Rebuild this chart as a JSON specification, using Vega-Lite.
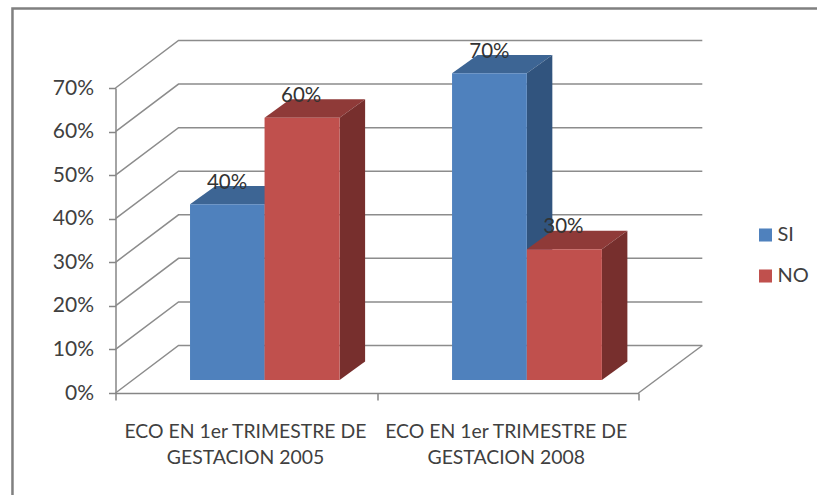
{
"$schema":"https://vega.github.io/schema/vega-lite/v6.json",
"width":523,"height":305,
"autosize":{"type":"none"},
"padding":{"left":115.5,"top":88,"right":178.5,"bottom":102},
"background":"#ffffff",
"view":{"stroke":null},
"config":{"font":"Lato","view":{"stroke":null}},
"datasets":{
"pared":[
{"linea":"marco","x":-0.394,"y":-23.4},{"linea":"marco","x":-0.394,"y":88.25},{"linea":"marco","x":2.684,"y":88.25}
],
"rejilla":[
{"linea":"suelo","x":2,"y":0},{"linea":"suelo","x":2.244,"y":10.9},
{"linea":"0","x":0,"y":0},{"linea":"0","x":0.241,"y":10.9},{"linea":"0","x":2.244,"y":10.9},
{"linea":"10","x":0,"y":10},{"linea":"10","x":0.241,"y":20.9},{"linea":"10","x":2.244,"y":20.9},
{"linea":"20","x":0,"y":20},{"linea":"20","x":0.241,"y":30.9},{"linea":"20","x":2.244,"y":30.9},
{"linea":"30","x":0,"y":30},{"linea":"30","x":0.241,"y":40.9},{"linea":"30","x":2.244,"y":40.9},
{"linea":"40","x":0,"y":40},{"linea":"40","x":0.241,"y":50.9},{"linea":"40","x":2.244,"y":50.9},
{"linea":"50","x":0,"y":50},{"linea":"50","x":0.241,"y":60.9},{"linea":"50","x":2.244,"y":60.9},
{"linea":"60","x":0,"y":60},{"linea":"60","x":0.241,"y":70.9},{"linea":"60","x":2.244,"y":70.9},
{"linea":"70","x":0,"y":70},{"linea":"70","x":0.241,"y":80.9},{"linea":"70","x":2.244,"y":80.9}
],
"caras":[
{"serie":"SI","cara":"SI techo","id":"a1","x":0.285,"y":43.3,"y2":43.3},{"serie":"SI","cara":"SI techo","id":"a1","x":0.3825,"y":43.3,"y2":47.5},{"serie":"SI","cara":"SI techo","id":"a1","x":0.57,"y":43.3,"y2":47.5},{"serie":"SI","cara":"SI techo","id":"a1","x":0.6675,"y":47.5,"y2":47.5},
{"serie":"SI","cara":"SI lado","id":"a2","x":0.57,"y":3,"y2":43.3},{"serie":"SI","cara":"SI lado","id":"a2","x":0.6675,"y":7.25,"y2":47.5},
{"serie":"NO","cara":"NO techo","id":"b1","x":0.57,"y":63.2,"y2":63.2},{"serie":"NO","cara":"NO techo","id":"b1","x":0.6675,"y":63.2,"y2":67.4},{"serie":"NO","cara":"NO techo","id":"b1","x":0.857,"y":63.2,"y2":67.4},{"serie":"NO","cara":"NO techo","id":"b1","x":0.9545,"y":67.4,"y2":67.4},
{"serie":"NO","cara":"NO lado","id":"b2","x":0.857,"y":3,"y2":63.2},{"serie":"NO","cara":"NO lado","id":"b2","x":0.9545,"y":7.25,"y2":67.4},
{"serie":"SI","cara":"SI techo","id":"c1","x":1.287,"y":73.4,"y2":73.4},{"serie":"SI","cara":"SI techo","id":"c1","x":1.3845,"y":73.4,"y2":77.6},{"serie":"SI","cara":"SI techo","id":"c1","x":1.573,"y":73.4,"y2":77.6},{"serie":"SI","cara":"SI techo","id":"c1","x":1.6705,"y":77.6,"y2":77.6},
{"serie":"SI","cara":"SI lado","id":"c2","x":1.573,"y":3,"y2":73.4},{"serie":"SI","cara":"SI lado","id":"c2","x":1.6705,"y":7.25,"y2":77.6},
{"serie":"NO","cara":"NO techo","id":"d1","x":1.573,"y":33,"y2":33},{"serie":"NO","cara":"NO techo","id":"d1","x":1.6705,"y":33,"y2":37.25},{"serie":"NO","cara":"NO techo","id":"d1","x":1.86,"y":33,"y2":37.25},{"serie":"NO","cara":"NO techo","id":"d1","x":1.9575,"y":37.25,"y2":37.25},
{"serie":"NO","cara":"NO lado","id":"d2","x":1.86,"y":3,"y2":33},{"serie":"NO","cara":"NO lado","id":"d2","x":1.9575,"y":7.25,"y2":37.25}
],
"barras":[
{"grupo":"ECO EN 1er TRIMESTRE DE GESTACION 2005","serie":"SI","valor":"40%","x":0.285,"x2":0.57,"y":3,"y2":43.3,"centro":0.4265,"yEtiqueta":48.2},
{"grupo":"ECO EN 1er TRIMESTRE DE GESTACION 2005","serie":"NO","valor":"60%","x":0.57,"x2":0.857,"y":3,"y2":63.2,"centro":0.71,"yEtiqueta":68.1},
{"grupo":"ECO EN 1er TRIMESTRE DE GESTACION 2008","serie":"SI","valor":"70%","x":1.287,"x2":1.573,"y":3,"y2":73.4,"centro":1.43,"yEtiqueta":78.2},
{"grupo":"ECO EN 1er TRIMESTRE DE GESTACION 2008","serie":"NO","valor":"30%","x":1.573,"x2":1.86,"y":3,"y2":33,"centro":1.713,"yEtiqueta":38}
],
"categorias":[
{"etiqueta":"ECO EN 1er TRIMESTRE  DE\nGESTACION 2005","x":0.497,"y":0},
{"etiqueta":"ECO EN 1er TRIMESTRE  DE\nGESTACION 2008","x":1.494,"y":0}
]
},
"encoding":{
"x":{"field":"x","type":"quantitative","scale":{"domain":[0,2],"nice":false,"zero":false},
"axis":{"title":null,"values":[0,1,2],"labels":false,"grid":false,"tickSize":7,"tickColor":"#868686","tickWidth":1.5,"domainColor":"#868686","domainWidth":1.5}},
"y":{"field":"y","type":"quantitative","scale":{"domain":[0,70],"nice":false,"zero":false},
"axis":{"title":null,"values":[0,10,20,30,40,50,60,70],"labelExpr":"datum.value + '%'","grid":false,"tickSize":7,"tickColor":"#868686","tickWidth":1.5,"domainColor":"#868686","domainWidth":1.5,"labelPadding":15,"labelFontSize":21,"labelColor":"#404040","labelFont":"Lato"}}
},
"layer":[
{"data":{"name":"pared"},"mark":{"type":"line","stroke":"#808080","strokeWidth":2.5,"clip":false},"encoding":{"detail":{"field":"linea"}}},
{"data":{"name":"rejilla"},"mark":{"type":"line","stroke":"#8c8c8c","strokeWidth":1.5,"clip":false},"encoding":{"detail":{"field":"linea"}}},
{"data":{"name":"caras"},"transform":[{"filter":"datum.serie === 'SI'"}],"mark":{"type":"area","orient":"vertical","clip":false},
 "encoding":{"y":{"field":"y","type":"quantitative","stack":null},"y2":{"field":"y2"},"detail":{"field":"id"},"color":{"field":"cara","type":"nominal"}}},
{"data":{"name":"barras"},"transform":[{"filter":"datum.serie === 'SI'"}],"mark":{"type":"rect","clip":false},
 "encoding":{"x2":{"field":"x2"},"y2":{"field":"y2"},"color":{"field":"serie","type":"nominal"}}},
{"data":{"name":"caras"},"transform":[{"filter":"datum.serie === 'NO'"}],"mark":{"type":"area","orient":"vertical","clip":false},
 "encoding":{"y":{"field":"y","type":"quantitative","stack":null},"y2":{"field":"y2"},"detail":{"field":"id"},"color":{"field":"cara","type":"nominal"}}},
{"data":{"name":"barras"},"transform":[{"filter":"datum.serie === 'NO'"}],"mark":{"type":"rect","clip":false},
 "encoding":{"x2":{"field":"x2"},"y2":{"field":"y2"},"color":{"field":"serie","type":"nominal",
  "scale":{"domain":["SI","NO","SI techo","SI lado","NO techo","NO lado"],"range":["#4F81BD","#C0504D","#3D6594","#31547E","#8F3A38","#772F2D"]},
  "legend":{"values":["SI","NO"],"title":null,"orient":"none","legendX":640,"legendY":137,"symbolType":"square","symbolSize":170,"symbolStrokeWidth":0,"labelFontSize":20,"labelColor":"#404040","labelFont":"Lato","rowPadding":21,"labelOffset":2}}}},
{"data":{"name":"barras"},"mark":{"type":"text","fontSize":20.5,"color":"#333333","baseline":"middle","align":"center","font":"Lato"},
 "encoding":{"x":{"field":"centro","type":"quantitative"},"y":{"field":"yEtiqueta","type":"quantitative"},"text":{"field":"valor"}}},
{"data":{"name":"categorias"},"mark":{"type":"text","fontSize":19.4,"color":"#404040","baseline":"top","align":"center","dy":30,"lineBreak":"\n","lineHeight":26,"font":"Lato"},
 "encoding":{"text":{"field":"etiqueta"}}}
]
}
